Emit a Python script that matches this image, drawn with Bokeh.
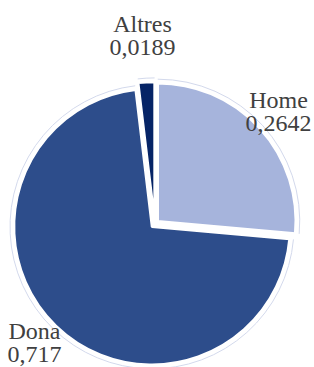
import numpy as np
from bokeh.plotting import figure
from bokeh.models import Range1d, ColumnDataSource
from bokeh.core.properties import value
from bokeh.embed import file_html
from bokeh.resources import INLINE

# ---- data ----
categories = ["Home", "Dona", "Altres"]
shares = [0.2642, 0.717, 0.0189]
value_labels = ["0,2642", "0,717", "0,0189"]
colors = ["#a6b4dc", "#2d4d8b", "#062466"]

# ---- layout (page pixels) ----
W, H = 314, 367
cx_page, cy_page = 154.3, 223.4
R = 138
EXPLODE = 4
label_pos_page = [(278, 99), (34, 330.5), (142, 23)]  # name line centers
LINE_GAP = 23.5

def py(y_page):
    return H - y_page

p = figure(width=W, height=H, output_backend="svg", toolbar_location=None,
           x_range=Range1d(0, W), y_range=Range1d(0, H),
           x_axis_type=None, y_axis_type=None, min_border=0)
p.grid.visible = False
p.outline_line_color = None
p.background_fill_color = "white"

frac = np.array(shares) / np.sum(shares)
ends = np.cumsum(frac)
starts = ends - frac
start_ang = np.pi / 2 - 2 * np.pi * starts
end_ang = np.pi / 2 - 2 * np.pi * ends
mid = (start_ang + end_ang) / 2
xs = cx_page + EXPLODE * np.cos(mid)
ys = py(cy_page) + EXPLODE * np.sin(mid)

src = ColumnDataSource(dict(x=xs, y=ys, s=start_ang, e=end_ang, c=colors))
p.arc(x="x", y="y", radius=R + 4, start_angle="s", end_angle="e", direction="clock",
      line_color="#d3d9ec", line_width=1, source=src)
p.wedge(x="x", y="y", radius=R, start_angle="s", end_angle="e", direction="clock",
        fill_color="c", line_color="white", line_width=2.5, source=src)

lx = [a for a, b in label_pos_page]
ly_name = [py(b) for a, b in label_pos_page]
ly_val = [py(b + LINE_GAP) for a, b in label_pos_page]
font = value("Times")
p.text(x=lx, y=ly_name, text=categories, text_font=font, text_font_size="24px",
       text_color="#404040", text_align="center", text_baseline="middle")
p.text(x=lx, y=ly_val, text=value_labels, text_font=font, text_font_size="24px",
       text_color="#404040", text_align="center", text_baseline="middle")

open("out.html", "w").write(file_html(p, INLINE))
